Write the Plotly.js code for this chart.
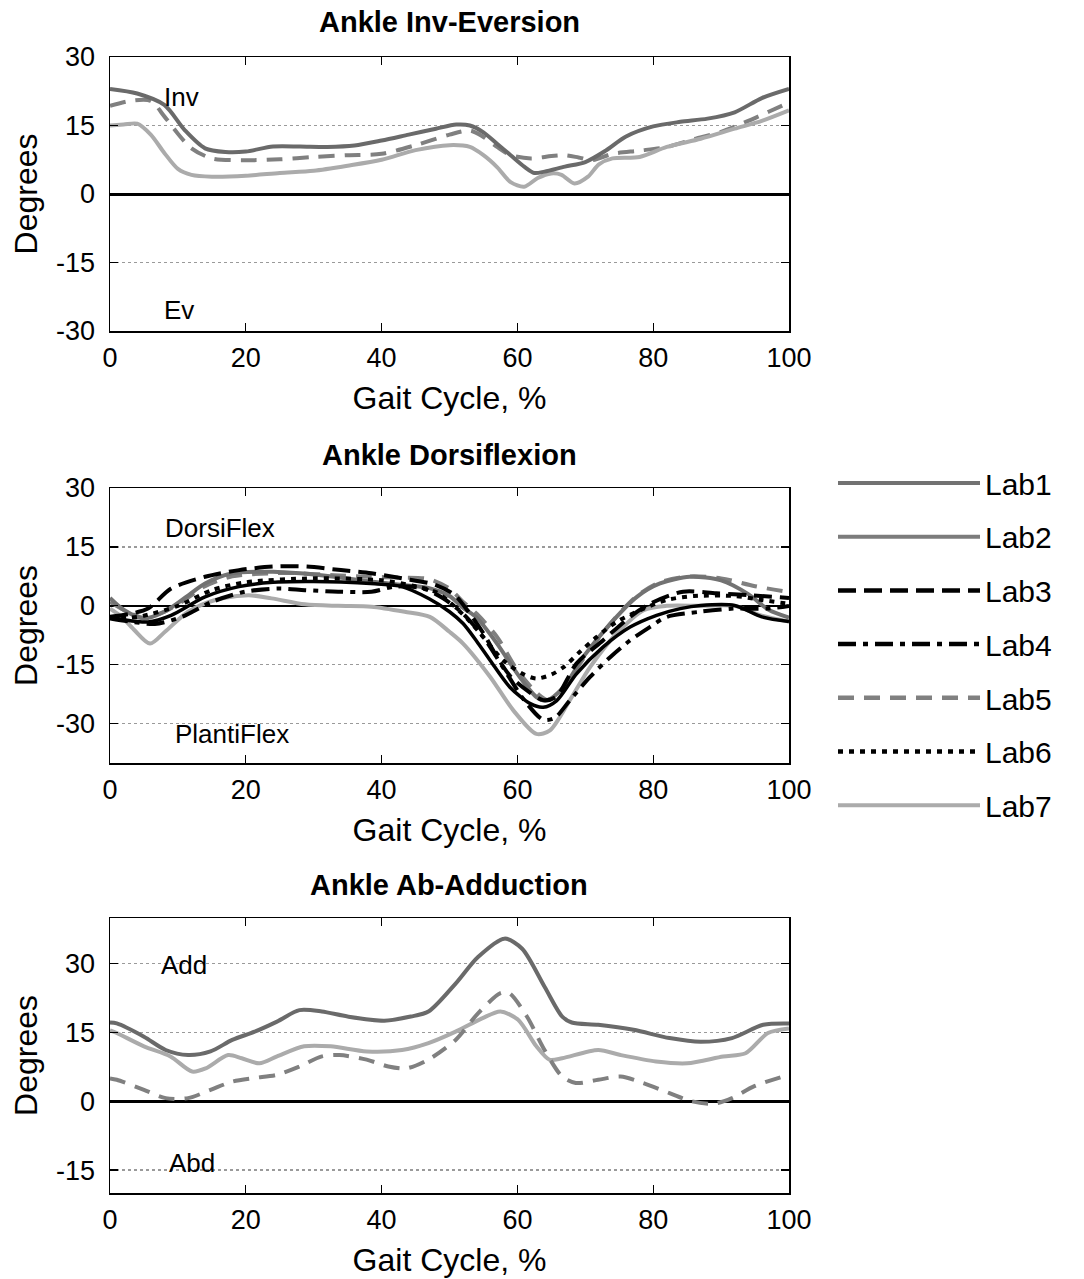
<!DOCTYPE html>
<html>
<head>
<meta charset="utf-8">
<script src="https://cdn.plot.ly/plotly-3.0.1.min.js"></script>
<style>html,body{margin:0;padding:0;background:#fff;}#chart{width:1084px;height:1279px;}</style>
</head>
<body>
<div id="chart"></div>
<script>
// ---------- DATA ----------
// Panel titles and region labels
const panelTitles = ["Ankle Inv-Eversion", "Ankle Dorsiflexion", "Ankle Ab-Adduction"];
const labNames = ["Lab1", "Lab2", "Lab3", "Lab4", "Lab5", "Lab6", "Lab7"];
const xTickVals = [0, 20, 40, 60, 80, 100];
const invTickVals = [-30, -15, 0, 15, 30];
const invTickText = ["-30", "-15", "0", "15", "30"];
const dorsiTickVals = [-30, -15, 0, 15, 30];
const dorsiTickText = ["-30", "-15", "0", "15", "30"];
const abdTickVals = [-15, 0, 15, 30];
const abdTickText = ["-15", "0", "15", "30"];

// Ankle Inv-Eversion
const inv_lab1_x = [0,4,8,11,14,17,20,24,28,32,36,40,44,48,51,53,55,57,59,61,62.5,64,67,70,73,76,80,84,88,92,96,100];
const inv_lab1_y = [23,22,19.5,14,10,9.2,9.3,10.4,10.4,10.3,10.6,11.7,13,14.3,15.2,15.0,13.5,11,8.5,6,4.6,4.9,6,7,9.5,12.6,14.8,15.8,16.5,17.9,21,23];
const inv_lab5_x = [0,3,6,8,10,12,15,20,25,30,35,40,45,50,53,55,57,59,62,65,67,69,71,74,78,82,86,90,94,97,100];
const inv_lab5_y = [19.3,20.4,20.4,17,13.2,10,7.8,7.4,7.6,8.1,8.5,8.8,10.7,13,13.9,12.5,10.3,8.5,7.8,8.3,8.5,8,7.4,8.8,9.5,10.3,12,13.6,16,18,20];
const inv_lab7_x = [0,2,4,6,8,10,12,15,20,25,30,35,40,45,50,53,55,57,59,61,63,65,66.5,68.4,70.4,72,74,78,82,87,92,96,100];
const inv_lab7_y = [15,15.2,15.4,13,9,5.5,4.2,3.8,4,4.6,5.1,6.2,7.5,9.6,10.7,10.3,8.5,5.9,2.6,1.6,3.5,4.5,4.2,2.3,3.8,6.5,7.8,8.1,10.3,12.1,14.3,16,18.3];

// Ankle Dorsiflexion
const dor_lab1_x = [0,2,5,8,11,14,18,24,28,33,38,43,47,50,52,54,57,60,62.8,64.3,66.8,69.7,73.7,77.6,81,85.4,90,94,97,100];
const dor_lab1_y = [2,-1,-3.2,-1.5,2,5.7,8.3,8.7,8.3,7.4,6.3,5.3,4.5,2.5,-0.5,-3,-9.6,-17.3,-23.2,-24.1,-20.7,-13,-4.5,2.3,5.7,7.4,6.5,3,-1,-3];
const dor_lab2_x = [0,2,5.6,9,14,19,24,29,34,39,43,47,50,52,54,56,58.9,61.9,63.8,65.8,68.7,72.6,76.6,80.5,84,87,92,96,100];
const dor_lab2_y = [-2.8,-3.5,-4.1,-2.4,2.3,4.9,6,6.2,6.1,5.6,4.9,1.8,-1.5,-4.5,-9,-13.9,-20.7,-24.9,-25.8,-24.1,-17.3,-10.5,-5.4,-2.4,-0.7,0.1,0.1,-2.8,-4];
const dor_lab3_x = [0,3,5.6,9,14,19,24,29,34,38.5,43,48,50.8,53,55,57,59,61.8,63.8,65.7,68.7,72.6,76.6,79.5,84.4,89.3,94.3,100];
const dor_lab3_y = [-2.8,-2,-0.7,4.4,7.4,9.1,10,10,9.1,8.3,7,5.3,2.7,-2,-7,-13,-18,-22,-24,-23.2,-14.7,-8.8,-2.8,0.5,3.6,3.2,2.7,2];
const dor_lab4_x = [0,3,6.6,10.6,15,19.9,24.8,28.7,33.6,38.5,42,46,49,52,55,58,61,63.8,65.5,67.7,70.7,73.7,76.6,79.5,82,86.9,91.8,96.7,100];
const dor_lab4_y = [-3.2,-4,-4.6,-2.8,1,3.6,4.4,4,3.6,3.6,4.9,4.5,2,-2,-8,-16,-24,-29,-28.5,-24.1,-18.1,-13,-8.8,-5.4,-2.8,-1.5,-0.7,-0.7,0];
const dor_lab5_x = [0,2,5,8,11,14,18,24,28,33,38,43,47,50,52,54,57,60,63,64.5,66.8,69.7,73.7,77.6,81,85.4,90,95,100];
const dor_lab5_y = [1,-1,-3,-1.5,1.5,5,7.5,8.3,8.3,7.8,7.4,7.2,6.8,4.4,1,-2,-7.9,-16.4,-22.4,-24,-21,-13.5,-4.5,2.5,6,7.5,7,5,3.5];
const dor_lab6_x = [0,3,5,10,15,20,30,40,45,48,50,53,55,58,61,62.8,65,66.8,69.2,71.7,74.6,78.6,82,86,92,96,100];
const dor_lab6_y = [-3,-3,-2.5,0,4,6,7,6.5,5,3.5,1,-4,-8,-14,-17.5,-18.5,-17.5,-15.6,-11.7,-7.9,-4.1,-0.7,1.5,2.5,2.5,1.5,0.5];
const dor_lab7_x = [0,1.5,3.5,5.9,8.1,11.5,15.5,20.4,23.8,28.7,33.6,38.5,43.4,47.1,50,52,56,59.4,62.8,64.8,67.7,70.7,74.6,78.6,82,87,92,96,100];
const dor_lab7_y = [-0.7,-2.5,-6,-9.6,-6.6,-1.5,1.5,2.7,1.9,0.4,0,-0.2,-1.5,-2.8,-6.6,-9.6,-18.1,-26.6,-32.6,-31.7,-24.1,-15.6,-7.1,-1.1,0,0,0,-2.5,-4];

// Ankle Ab-Adduction
const abd_lab1_x = [0,1,5,8.2,11.5,14.8,18,21.3,24.6,27.9,31.2,35,40.4,44.3,46.9,50.9,54.2,58.1,60.7,64,66.6,68,71.9,77.1,82.4,87,91.6,96.2,100];
const abd_lab1_y = [17.2,17,14.1,11.2,10.1,10.9,13.4,15.2,17.4,19.9,19.6,18.5,17.6,18.5,19.6,25.7,31.5,35.5,33.3,25,18.5,17.2,16.7,15.6,13.8,13,13.8,16.7,17];
const abd_lab5_x = [0,1,5,8.2,11.5,14.8,18,21.3,24.6,27.9,31.2,33.8,37.8,41,43.7,46.9,50.9,54.2,57.5,58.8,61.4,64,66.6,68.6,71.9,75.2,78.5,82.4,85.7,89,91.6,94.9,100];
const abd_lab5_y = [5,4.7,2.5,0.7,0.7,2.5,4.3,5.1,5.8,7.6,9.8,10.1,9.1,7.6,7.2,9.1,13.4,19.2,23.6,23.6,18.5,11.2,5.4,4,4.7,5.4,4,1.8,0,-0.5,0.7,3.3,5.8];
const abd_lab7_x = [0,1,5,8.9,12.1,14.1,17.4,19.4,22,24.6,28.6,32.5,37.8,43,46.9,50.9,54.8,57.5,60.1,62.8,64.7,66.6,71.9,75.2,80.4,85,90.3,93.6,96.9,100];
const abd_lab7_y = [15.5,14.9,12,9.8,6.5,7.2,10.1,9.4,8.3,9.8,12,12,10.9,11.2,12.7,15.2,18.1,19.6,17.8,12,9.1,9.4,11.2,10.1,8.7,8.3,9.8,10.5,14.9,15.9];

// ---------- STYLES ----------
const FONT = "Liberation Sans, Arial, Helvetica, sans-serif";
const styles = {
  Lab1: {color: "#727272", width: 4, dash: "solid"},
  Lab2: {color: "#7c7c7c", width: 4, dash: "solid"},
  Lab3: {color: "#000000", width: 4.5, dash: "18px,8px"},
  Lab4: {color: "#000000", width: 4.5, dash: "18px,7px,5px,7px"},
  Lab5: {color: "#808080", width: 4.5, dash: "16px,10px"},
  Lab6: {color: "#000000", width: 4.5, dash: "5px,6px"},
  Lab7: {color: "#ababab", width: 4, dash: "solid"}
};
const plotLine = (name, override) => Object.assign({}, styles[name], {width: 4}, override || {}, {shape: "spline", smoothing: 0.8});

function tr(x, y, name, xa, ya, override) {
  return {x: x, y: y, name: name, type: "scatter", mode: "lines", xaxis: xa, yaxis: ya,
          line: plotLine(name, override), showlegend: false, hoverinfo: "skip"};
}

const traces = [
  tr(inv_lab5_x, inv_lab5_y, "Lab5", "x", "y"),
  tr(inv_lab7_x, inv_lab7_y, "Lab7", "x", "y"),
  tr(inv_lab1_x, inv_lab1_y, "Lab1", "x", "y", {color: "#6a6a6a"}),

  tr(dor_lab7_x, dor_lab7_y, "Lab7", "x2", "y2"),
  tr(dor_lab5_x, dor_lab5_y, "Lab5", "x2", "y2"),
  tr(dor_lab1_x, dor_lab1_y, "Lab1", "x2", "y2"),
  tr(dor_lab3_x, dor_lab3_y, "Lab3", "x2", "y2"),
  tr(dor_lab4_x, dor_lab4_y, "Lab4", "x2", "y2"),
  tr(dor_lab6_x, dor_lab6_y, "Lab6", "x2", "y2"),
  tr(dor_lab2_x, dor_lab2_y, "Lab2", "x2", "y2", {color: "#000000", width: 3.5}),

  tr(abd_lab7_x, abd_lab7_y, "Lab7", "x3", "y3"),
  tr(abd_lab5_x, abd_lab5_y, "Lab5", "x3", "y3"),
  tr(abd_lab1_x, abd_lab1_y, "Lab1", "x3", "y3", {color: "#6a6a6a"})
];
// legend keys (one per lab)
labNames.forEach((n, i) => {
  traces.push({x: [null], y: [null], name: n, type: "scatter", mode: "lines", xaxis: "x2", yaxis: "y2",
    line: Object.assign({}, styles[n]), showlegend: true, legendgroup: "g" + i, hoverinfo: "skip"});
});

// ---------- LAYOUT ----------
const H = 1279, W = 1084;
const xdom = [110 / W, 789 / W];
const dom = (top, bot) => [1 - bot / H, 1 - top / H];

function xaxis(anchor, domain) {
  return {domain: xdom, anchor: anchor, range: [0, 100], tickvals: xTickVals, ticks: "inside", ticklen: 8,
    tickwidth: 1.2, tickcolor: "#000", mirror: "ticks", showline: true, linecolor: "#000", linewidth: 1.5,
    showgrid: false, zeroline: false, fixedrange: true, ticklabelstandoff: 2,
    tickfont: {family: FONT, size: 27, color: "#000"},
    title: {text: "Gait Cycle, %", font: {family: FONT, size: 32, color: "#000"}, standoff: 14}};
}
function yaxis(anchor, domain, range, tv, tt, zw) {
  return {domain: domain, anchor: anchor, range: range, tickvals: tv, ticktext: tt, ticks: "inside", ticklen: 8,
    tickwidth: 1.2, tickcolor: "#000", mirror: "ticks", showline: true, linecolor: "#000", linewidth: 1.5,
    showgrid: true, gridcolor: "#9a9a9a", griddash: "dot", gridwidth: 1.2,
    zeroline: true, zerolinecolor: "#000", zerolinewidth: zw, fixedrange: true, ticklabelstandoff: 8,
    tickfont: {family: FONT, size: 27, color: "#000"},
    title: {text: "Degrees", font: {family: FONT, size: 32, color: "#000"}, standoff: 9}};
}

const d1 = dom(57, 331), d2 = dom(488, 763), d3 = dom(918, 1193);

function titleAnn(text, yTopPx) {
  return {text: "<b>" + text + "</b>", xref: "paper", yref: "paper", x: (xdom[0] + xdom[1]) / 2,
    y: 1 - yTopPx / H, xanchor: "center", yanchor: "middle", showarrow: false,
    font: {family: FONT, size: 29, color: "#000"}};
}
function labelAnn(text, xa, ya, x, y) {
  return {text: text, xref: xa, yref: ya, x: x, y: y, xanchor: "left", yanchor: "middle",
    showarrow: false, font: {family: FONT, size: 26, color: "#000"}};
}

const layout = {
  width: W, height: H,
  margin: {l: 0, r: 0, t: 0, b: 0},
  paper_bgcolor: "#fff", plot_bgcolor: "#fff",
  font: {family: FONT, color: "#000"},
  showlegend: true,
  legend: {x: 833 / W, y: 1 - 457 / H, xanchor: "left", yanchor: "top", itemwidth: 142,
    font: {family: FONT, size: 30, color: "#000"}, tracegroupgap: 11.7, traceorder: "grouped",
    bgcolor: "rgba(0,0,0,0)", borderwidth: 0},
  xaxis: xaxis("y", xdom), yaxis: yaxis("x", d1, [-30, 30], invTickVals, invTickText, 3),
  xaxis2: xaxis("y2", xdom), yaxis2: yaxis("x2", d2, [-40, 30], dorsiTickVals, dorsiTickText, 1.8),
  xaxis3: xaxis("y3", xdom), yaxis3: yaxis("x3", d3, [-20, 40], abdTickVals, abdTickText, 3),
  annotations: [
    titleAnn(panelTitles[0], 22),
    titleAnn(panelTitles[1], 455),
    titleAnn(panelTitles[2], 885),
    labelAnn("Inv", "x", "y", 7.6, 21.2),
    labelAnn("Ev", "x", "y", 7.6, -25.4),
    labelAnn("DorsiFlex", "x2", "y2", 7.8, 19.8),
    labelAnn("PlantiFlex", "x2", "y2", 9.3, -32.5),
    labelAnn("Add", "x3", "y3", 7.2, 29.8),
    labelAnn("Abd", "x3", "y3", 8.4, -13.4)
  ]
};

Plotly.newPlot("chart", traces, layout, {displayModeBar: false, staticPlot: true});
</script>
</body>
</html>
